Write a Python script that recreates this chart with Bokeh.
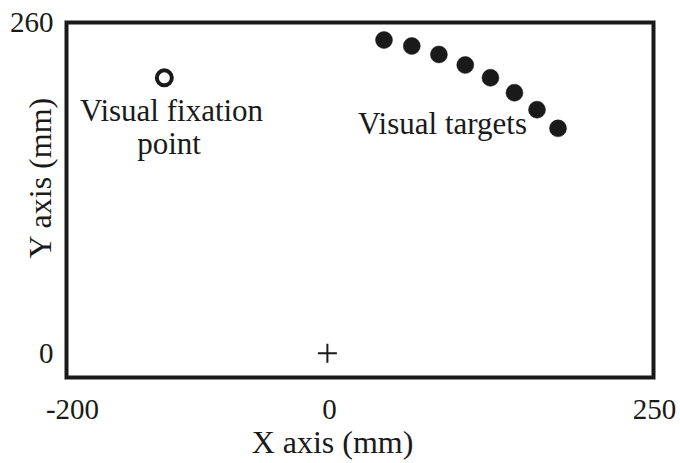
import math
from bokeh.plotting import figure
from bokeh.models import ColumnDataSource
from bokeh.core.properties import value
from bokeh.embed import file_html
from bokeh.resources import INLINE

# Workspace limits and tick labels (mm)
x_ticks = [-200, 0, 250]
x_tick_text = ["-200", "0", "250"]
y_ticks = [0, 260]
y_tick_text = ["0", "260"]
y_floor = -19  # lower edge of the workspace box

# Visual targets on an arc in front of the start position
target_x = [43.4, 64.7, 85.5, 105.7, 125.0, 143.4, 160.7, 176.8]
target_y = [246.2, 241.5, 234.9, 226.6, 216.5, 204.8, 191.5, 176.8]

# Visual fixation point
fix_x = [-125.0]
fix_y = [216.5]

# Start position (hand)
start_x = [0.0]
start_y = [0.0]

INK = "#1a1a1a"
SERIF = "Liberation Serif"

# Canvas size and where the workspace box sits on it (pixels)
W, H = 680, 463
BOX_L, BOX_R, BOX_T, BOX_B = 66, 653, 22, 377

x0, x1 = x_ticks[0], x_ticks[-1]
y0, y1 = y_floor, y_ticks[-1]
kx = (BOX_R - BOX_L) / (x1 - x0)   # px per mm
ky = (BOX_B - BOX_T) / (y1 - y0)


def dx(px):
    """canvas pixel column -> data x"""
    return x0 + (px - BOX_L) / kx


def dy(py):
    """canvas pixel row -> data y"""
    return y1 - (py - BOX_T) / ky


# In-plot annotations (centre of each line of text)
note_text = ["Visual fixation", "point", "Visual targets"]
note_x = [dx(171), dx(168.5), dx(442)]
note_y = [dy(109.5), dy(143), dy(123)]

# The frame spans the whole canvas so every text is drawn as a glyph
p = figure(
    width=W, height=H,
    x_range=(dx(0), dx(W)), y_range=(dy(H), dy(0)),
    output_backend="svg", toolbar_location=None,
    x_axis_location=None, y_axis_location=None,
    min_border=0,
)
p.background_fill_color = "white"
p.border_fill_color = "white"
p.outline_line_color = None
p.grid.visible = False

# Workspace box
p.quad(left=[x0], right=[x1], bottom=[y0], top=[y1],
       fill_color=None, line_color=INK, line_width=4, line_join="miter")

# Tick labels
p.text(x=x_ticks, y=[dy(409)] * len(x_ticks), text=x_tick_text,
       x_offset=[6, 2, 1],
       text_font=value(SERIF), text_font_size="29px", text_color=INK,
       text_align="center", text_baseline="middle")
p.text(x=[dx(BOX_L - 13)] * len(y_ticks), y=y_ticks, text=y_tick_text,
       text_font=value(SERIF), text_font_size="29px", text_color=INK,
       text_align="right", text_baseline="middle")

# Axis titles
p.text(x=[dx(332)], y=[dy(441)], text=["X axis (mm)"],
       text_font=value(SERIF), text_font_size="32px", text_color=INK,
       text_align="center", text_baseline="middle")
p.text(x=[dx(39.5)], y=[dy(177)], text=["Y axis (mm)"], angle=math.pi / 2,
       text_font=value(SERIF), text_font_size="32px", text_color=INK,
       text_align="center", text_baseline="middle")

# Targets
p.scatter(target_x, target_y, marker="circle", size=17,
          fill_color=INK, line_color=INK, line_width=0.5)

# Fixation point (open ring)
p.scatter(fix_x, fix_y, marker="circle", size=15,
          fill_color="white", line_color=INK, line_width=4)

# Start position
p.scatter(start_x, start_y, marker="cross", size=19,
          line_color=INK, line_width=2)

notes = ColumnDataSource(dict(x=note_x, y=note_y, text=note_text))
p.text(x="x", y="y", text="text", source=notes,
       text_font=value(SERIF), text_font_size="31px",
       text_color=INK, text_align="center", text_baseline="middle")

open("out.html", "w").write(file_html(p, INLINE))
